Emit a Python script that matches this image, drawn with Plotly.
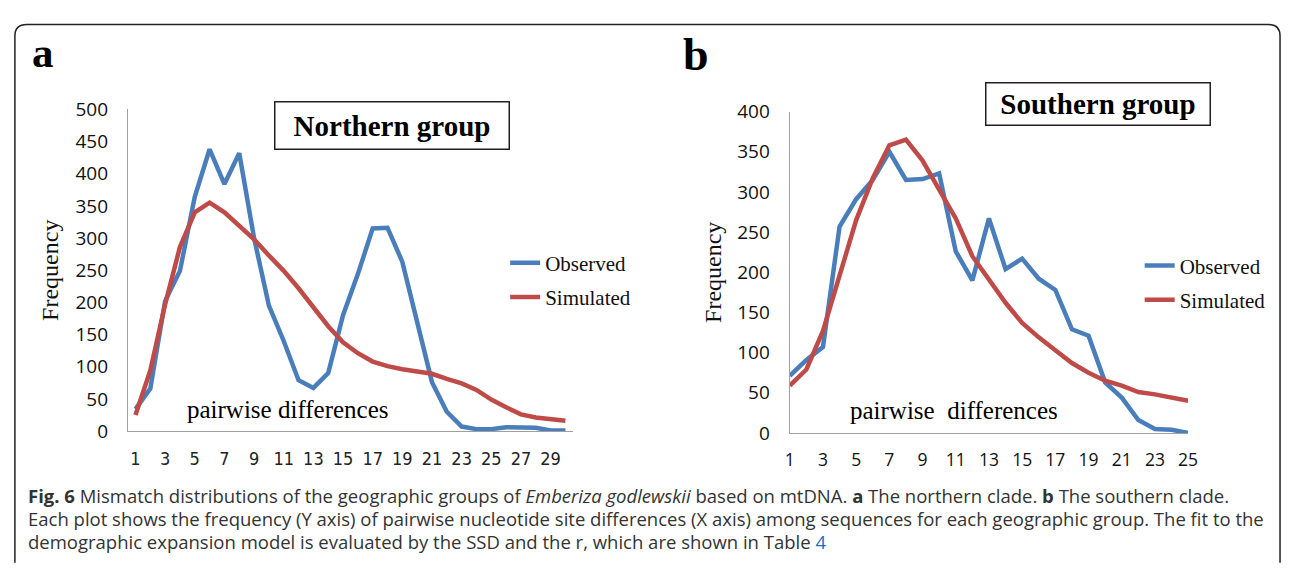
import plotly.graph_objects as go

W, H = 1293, 571

# ---------------- data ----------------
diff_a = list(range(1, 31))
observed_a = [34, 66, 202, 249, 364, 438, 384, 432, 300, 195, 140, 79, 67, 90, 180,
              244, 315, 316, 263, 170, 76, 30, 7, 3, 3, 6, 6, 5, 1, 1]
simulated_a = [25, 94, 197, 286, 340, 355, 340, 318, 298, 273, 249, 222, 192, 163, 138,
               121, 108, 101, 96, 93, 89, 81, 74, 64, 49, 37, 26, 21, 18, 16]

diff_b = list(range(1, 26))
observed_b = [71, 91, 107, 257, 291, 315, 350, 315, 316, 323, 226, 190, 267, 204, 217,
              192, 178, 129, 121, 63, 44, 16, 5, 4, 0]
simulated_b = [59, 79, 127, 194, 265, 317, 358, 365, 339, 303, 267, 220, 190, 162, 137,
               119, 103, 87, 75, 65, 59, 51, 48, 44, 40]

ticks_a = list(range(1, 30, 2))
ticks_b = list(range(1, 26, 2))

caption_lines = [
    "<b>Fig. 6</b> Mismatch distributions of the geographic groups of <i>Emberiza godlewskii</i> "
    "based on mtDNA. <b>a</b> The northern clade. <b>b</b> The southern clade.",
    "Each plot shows the frequency (Y axis) of pairwise nucleotide site differences (X axis) "
    "among sequences for each geographic group. The fit to the",
    "demographic expansion model is evaluated by the SSD and the r, which are shown in Table "
    "<span style='color:#1a6fc4'>4</span>",
]

BLUE = "#4A7EBB"
RED = "#BE4B48"
AXIS = "#A0A0A0"
SERIF = "Liberation Serif"
SANS = "Open Sans"
NARROW = "Liberation Sans Narrow, DejaVu Sans Condensed, Open Sans"


def px(x):
    return x / W


def py(y):
    return 1 - y / H


fig = go.Figure()

fig.add_trace(go.Scatter(x=diff_a, y=observed_a, mode="lines", name="Observed",
                         line=dict(color=BLUE, width=4.5), xaxis="x", yaxis="y",
                         legend="legend", legendgroup="oa"))
fig.add_trace(go.Scatter(x=diff_a, y=simulated_a, mode="lines", name="Simulated",
                         line=dict(color=RED, width=4.5), xaxis="x", yaxis="y",
                         legend="legend", legendgroup="sa"))
fig.add_trace(go.Scatter(x=diff_b, y=observed_b, mode="lines", name="Observed",
                         line=dict(color=BLUE, width=4.5), xaxis="x2", yaxis="y2",
                         legend="legend2", legendgroup="ob"))
fig.add_trace(go.Scatter(x=diff_b, y=simulated_b, mode="lines", name="Simulated",
                         line=dict(color=RED, width=4.5), xaxis="x2", yaxis="y2",
                         legend="legend2", legendgroup="sb"))

axis_common = dict(showgrid=False, zeroline=False, showline=True, linecolor=AXIS,
                   linewidth=1.3, ticks="")
ytick_font = dict(family=SANS, size=19, color="#111")
title_font = dict(family=SERIF, size=24, color="#111")

fig.update_layout(
    width=W, height=H, autosize=False,
    margin=dict(l=0, r=0, t=0, b=0),
    paper_bgcolor="white", plot_bgcolor="white",
    xaxis=dict(domain=[px(124.5), px(574.5)], range=[0.5, 30.5], tickvals=ticks_a,
               anchor="y", ticklabelstandoff=11,
               tickfont=dict(family=NARROW, size=18, color="#222"), **axis_common),
    yaxis=dict(domain=[py(438), py(101)], range=[0, 500], dtick=50, anchor="x",
               ticklabelstandoff=15, tickfont=ytick_font,
               title=dict(text="Frequency", font=title_font, standoff=10),
               **axis_common),
    xaxis2=dict(domain=[px(794), px(1197)], range=[1, 25], tickvals=ticks_b,
                anchor="y2", ticklabelstandoff=11,
                tickfont=dict(family=SANS, size=17.5, color="#111"), **axis_common),
    yaxis2=dict(domain=[py(440), py(103.3)], range=[0, 400], dtick=50, anchor="x2",
                ticklabelstandoff=15, tickfont=ytick_font,
                title=dict(text="Frequency", font=title_font, standoff=8),
                **axis_common),
    legend=dict(x=px(506), y=py(240.5), xanchor="left", yanchor="top",
                font=dict(family=SERIF, size=21, color="#111"),
                bgcolor="rgba(0,0,0,0)", tracegroupgap=4, itemwidth=30),
    legend2=dict(x=px(1148), y=py(243.5), xanchor="left", yanchor="top",
                 font=dict(family=SERIF, size=21, color="#111"),
                 bgcolor="rgba(0,0,0,0)", tracegroupgap=4, itemwidth=30),
    showlegend=True,
)

# outer rounded frame (open at the bottom)
r = 12
x0, x1, y0 = 10, 1290, 12
path = (f"M {px(x0)},{py(H + 5)} L {px(x0)},{py(y0 + r)} "
        f"Q {px(x0)},{py(y0)} {px(x0 + r)},{py(y0)} "
        f"L {px(x1 - r)},{py(y0)} Q {px(x1)},{py(y0)} {px(x1)},{py(y0 + r)} "
        f"L {px(x1)},{py(H + 5)}")
fig.add_shape(type="path", path=path, xref="paper", yref="paper",
              line=dict(color="#222", width=1.5))

annots = []
# panel letters
annots.append(dict(text="<b>a</b>", x=px(25), y=py(41), xanchor="left", yanchor="middle",
                   font=dict(family=SERIF, size=43, color="#000")))
annots.append(dict(text="<b>b</b>", x=px(684), y=py(43), xanchor="left", yanchor="middle",
                   font=dict(family=SERIF, size=46, color="#000")))
# group title boxes
annots.append(dict(text="<b>Northern group</b>", x=px(392), y=py(117.5), xanchor="center",
                   yanchor="middle", font=dict(family=SERIF, size=29, color="#000"),
                   bordercolor="#231f20", borderwidth=1.5, borderpad=0,
                   width=233, height=46, bgcolor="white"))
annots.append(dict(text="<b>Southern group</b>", x=px(1106), y=py(95), xanchor="center",
                   yanchor="middle", font=dict(family=SERIF, size=29, color="#000"),
                   bordercolor="#231f20", borderwidth=1.5, borderpad=0,
                   width=223, height=41, bgcolor="white"))
# in-plot x labels
annots.append(dict(text="pairwise differences", x=px(286), y=py(415), xanchor="center",
                   yanchor="middle", font=dict(family=SERIF, size=25, color="#000")))
annots.append(dict(text="pairwise&nbsp; differences", x=px(960), y=py(416), xanchor="center",
                   yanchor="middle", font=dict(family=SERIF, size=25, color="#000")))
# caption, one annotation per line
for i, line in enumerate(caption_lines):
    annots.append(dict(text=line, x=px(21), y=py(505 + 24.5 * i), xanchor="left",
                       yanchor="middle", align="left",
                       font=dict(family=SANS, size=18.5, color="#333")))

for a in annots:
    a.setdefault("xref", "paper")
    a.setdefault("yref", "paper")
    a.setdefault("showarrow", False)
    fig.add_annotation(**a)

fig.write_html("out.html")
